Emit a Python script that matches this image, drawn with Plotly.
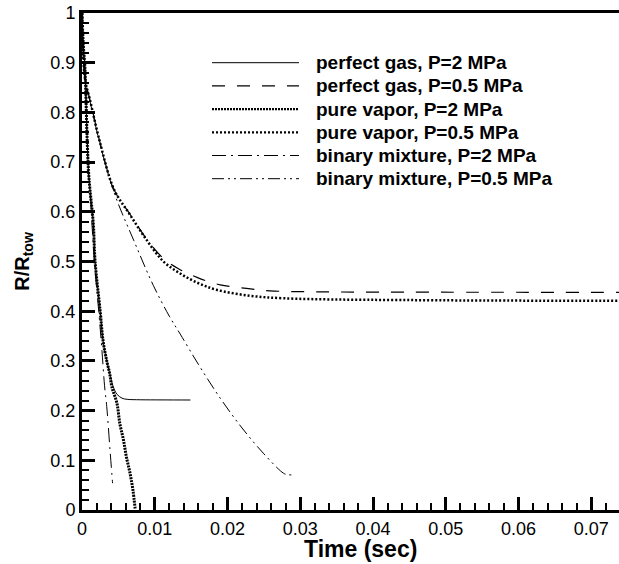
import plotly.graph_objects as go

# ---------------- data ----------------
series_names = [
    "perfect gas, P=2 MPa",
    "perfect gas, P=0.5 MPa",
    "pure vapor, P=2 MPa",
    "pure vapor, P=0.5 MPa",
    "binary mixture, P=2 MPa",
    "binary mixture, P=0.5 MPa",
]

pg2_t = [0, 0.0001, 0.0002, 0.0004, 0.0007, 0.0009, 0.0011, 0.00155, 0.0018, 0.0025, 0.0029,
         0.0034, 0.0038, 0.0043, 0.0048, 0.0055, 0.0062, 0.008, 0.011, 0.0149]
pg2_r = [1, 0.96, 0.93, 0.89, 0.75, 0.68, 0.644, 0.577, 0.50, 0.40, 0.34,
         0.30, 0.275, 0.248, 0.233, 0.225, 0.2227, 0.2218, 0.2215, 0.2213]

pg05_t = [0, 0.0001, 0.0002, 0.0005, 0.0011, 0.0025, 0.0044, 0.0066, 0.0089, 0.0112, 0.0132,
          0.0158, 0.019, 0.0226, 0.0258, 0.0323, 0.045, 0.074]
pg05_r = [1, 0.95, 0.90, 0.86, 0.825, 0.738, 0.645, 0.595, 0.545, 0.506, 0.486,
          0.468, 0.453, 0.446, 0.441, 0.439, 0.4383, 0.438]

pv2_t = [0, 0.0001, 0.0002, 0.0004, 0.0007, 0.0009, 0.0011, 0.00155, 0.0018, 0.0025, 0.0029,
         0.0034, 0.0038, 0.0041, 0.0048, 0.0052, 0.0057, 0.0061, 0.0066, 0.0070, 0.0073]
pv2_r = [1, 0.96, 0.93, 0.89, 0.75, 0.68, 0.644, 0.577, 0.50, 0.40, 0.34,
         0.30, 0.275, 0.248, 0.215, 0.174, 0.141, 0.107, 0.074, 0.040, 0.003]

pv05_t = [0, 0.0001, 0.0002, 0.0005, 0.0011, 0.0025, 0.0044, 0.0066, 0.0089, 0.0112, 0.0137,
          0.0162, 0.0185, 0.0231, 0.0277, 0.035, 0.0437, 0.055, 0.074]
pv05_r = [1, 0.95, 0.90, 0.86, 0.825, 0.738, 0.645, 0.594, 0.543, 0.500, 0.474,
          0.455, 0.443, 0.431, 0.426, 0.4235, 0.4225, 0.4215, 0.421]

bm2_t = [0, 0.0001, 0.0002, 0.0004, 0.0007, 0.0009, 0.0011, 0.0017, 0.0023, 0.0027, 0.0031,
         0.0034, 0.00385, 0.0042]
bm2_r = [1, 0.96, 0.93, 0.89, 0.75, 0.68, 0.64, 0.50, 0.40, 0.329, 0.25,
         0.208, 0.121, 0.054]

bm05_t = [0, 0.0001, 0.0002, 0.0005, 0.0011, 0.0025, 0.0045, 0.0071, 0.0098, 0.012, 0.0135,
          0.016, 0.019, 0.022, 0.025, 0.0277, 0.0283, 0.0293]
bm05_r = [1, 0.95, 0.90, 0.86, 0.822, 0.735, 0.635, 0.543, 0.452, 0.39, 0.354,
          0.293, 0.225, 0.165, 0.113, 0.074, 0.071, 0.071]

x_ticks = [0, 0.01, 0.02, 0.03, 0.04, 0.05, 0.06, 0.07]
y_ticks = [0, 0.1, 0.2, 0.3, 0.4, 0.5, 0.6, 0.7, 0.8, 0.9, 1]

# ---------------- styles ----------------
styles = [
    dict(color="black", width=1, dash="solid"),
    dict(color="black", width=1.2, dash="13px,12px"),
    dict(color="black", width=3, dash="2px,1px"),
    dict(color="black", width=2.5, dash="2px,2px"),
    dict(color="black", width=1, dash="14px,5px,2px,5px"),
    dict(color="black", width=1, dash="12px,4px,2px,4px,2px,4px"),
]

data = [(pg2_t, pg2_r), (pg05_t, pg05_r), (pv2_t, pv2_r),
        (pv05_t, pv05_r), (bm2_t, bm2_r), (bm05_t, bm05_r)]

fig = go.Figure()
for name, (t, r), st in zip(series_names, data, styles):
    fig.add_trace(go.Scatter(x=t, y=r, mode="lines", name=name, line=st,
                             line_shape="spline", showlegend=False))

# the page body margin is removed in post_script, so the figure sits at (0, 0)
W, H = 619, 564
plot_left, plot_top, plot_bottom = 82, 13, 510   # screen pixels
ml, mt, mb, mr = plot_left, plot_top, H - plot_bottom, 0
pw = W - ml - mr
ph = H - mt - mb

def px_x(p):
    return (p - plot_left) / pw

def px_y(p):
    return (plot_bottom - p) / ph

FONT = "Liberation Sans, Arial, Helvetica, sans-serif"

# manual legend
row_y = [62.7, 85.9, 109.1, 132.3, 155.5, 178.7]
shapes = []
annotations = []
for name, st, yy in zip(series_names, styles, row_y):
    shapes.append(dict(type="line", xref="paper", yref="paper",
                       x0=px_x(212), x1=px_x(299), y0=px_y(yy), y1=px_y(yy),
                       line=dict(color="black", width=min(st["width"], 2.2), dash=st["dash"])))
    annotations.append(dict(xref="paper", yref="paper", x=px_x(314), y=px_y(yy),
                            xanchor="left", yanchor="middle", showarrow=False,
                            text="<b>" + name + "</b>",
                            font=dict(family=FONT, size=19, color="black")))

annotations.append(dict(xref="paper", yref="paper", x=px_x(360), y=px_y(549),
                        xanchor="center", yanchor="middle", showarrow=False,
                        text="<b>Time (sec)</b>",
                        font=dict(family=FONT, size=23, color="black")))

fig.update_layout(
    width=W, height=H,
    margin=dict(l=ml, r=mr, t=mt, b=mb, autoexpand=False),
    paper_bgcolor="white", plot_bgcolor="white",
    font=dict(family=FONT, size=18, color="black"),
    shapes=shapes, annotations=annotations,
)

fig.update_xaxes(
    range=[0, (619 - plot_left) / 7275.0], tickvals=x_ticks,
    ticktext=[("%g" % v) for v in x_ticks],
    ticks="inside", ticklen=13, tickwidth=2.5, tickcolor="black",
    showline=True, linewidth=3, linecolor="black", mirror=True,
    showgrid=False, zeroline=False, automargin=False,
    ticklabeloverflow="allow",
    minor=dict(ticks="inside", ticklen=7, tickwidth=1.5, tickcolor="black", dtick=0.002, showgrid=False),
    tickfont=dict(size=18),
)
fig.update_yaxes(
    range=[0, 1], tickvals=y_ticks,
    ticktext=[("%g" % v) for v in y_ticks],
    ticks="inside", ticklen=13, tickwidth=2.5, tickcolor="black",
    showline=True, linewidth=3, linecolor="black", mirror=False,
    showgrid=False, zeroline=False, automargin=False,
    ticklabeloverflow="allow",
    minor=dict(ticks="inside", ticklen=7, tickwidth=1.5, tickcolor="black", dtick=0.02, showgrid=False),
    tickfont=dict(size=18),
    title=dict(text="<b>R/R<sub>tow</sub></b>", font=dict(size=20), standoff=16),
)

fig.write_html("out.html",
               config={"displayModeBar": False},
               post_script="document.body.style.margin='0';document.body.style.overflow='hidden';")
